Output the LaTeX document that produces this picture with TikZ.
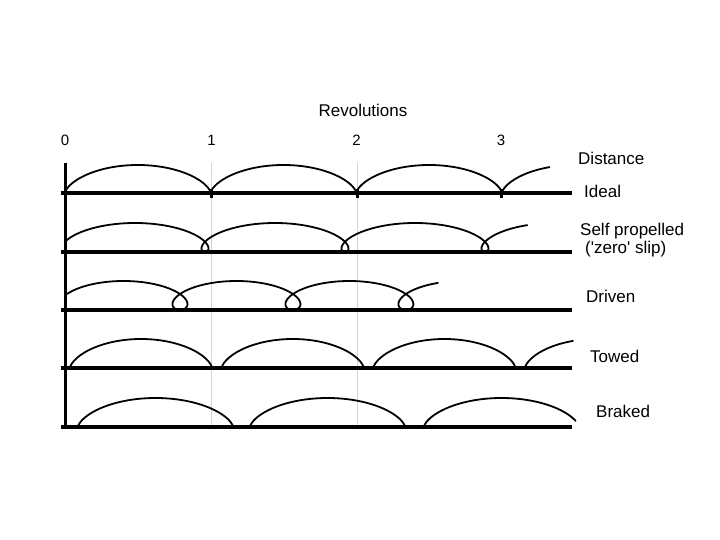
\documentclass[tikz,border=0pt]{standalone}
\usepackage{fontspec}
\setmainfont{Liberation Sans}
\begin{document}
\begin{tikzpicture}[x=1pt,y=-1pt,
  axis/.style={line width=3.5pt},
  gridline/.style={line width=1pt, draw=black!17},
  curve/.style={line width=1.8pt, line join=round, line cap=round},
  lbl/.style={anchor=base west, inner sep=0pt, font=\fontsize{17}{20}\selectfont},
  num/.style={anchor=base, inner sep=0pt, font=\fontsize{15}{17}\selectfont}]
\useasboundingbox (0,0) rectangle (720,540);
\fill[white] (0,0) rectangle (720,540);
% revolution guide lines
\draw[gridline] (211.5,163) -- (211.5,428);
\draw[gridline] (357,163) -- (357,428);
% baselines and axis
\foreach \y in {193,252,310,368,427} \draw[axis] (61,\y) -- (572,\y);
\draw[axis] (65.5,163) -- (65.5,429);
% ticks on ideal line
\foreach \x in {211.5,357,501.5} \draw[line width=3pt] (\x,189) -- (\x,198);
% ideal: cycloid
\draw[curve] plot[domain=0:21.44, samples=600, variable=\t]
  ({65+23.18*(\t-sin(\t r))},{193-14*(1-cos(\t r))});
% self propelled: small loops
\draw[curve] plot[domain=1.27:21.45, samples=600, variable=\t]
  ({65+22.28*\t-29.6*sin(\t r)},{252-14.5*(1-cos(\t r))});
% driven: large loops
\draw[curve] plot[domain=1.68:21.47, samples=600, variable=\t]
  ({67+17.98*\t-30.2*sin(\t r)},{310-14.5*(1-cos(\t r))});
% towed
\foreach \s in {70,221.7,373.4}
  \draw[curve] plot[domain=0:6.2832, samples=150, variable=\t]
    ({\s+22.6*(\t-sin(\t r))},{368-14.5*(1-cos(\t r))});
\draw[curve] plot[domain=0:2.62, samples=80, variable=\t]
  ({525+22.6*(\t-sin(\t r))},{368-14.5*(1-cos(\t r))});
% braked
\foreach \s in {78,250}
  \draw[curve] plot[domain=0:6.2832, samples=150, variable=\t]
    ({\s+24.67*(\t-sin(\t r))},{427-14.5*(1-cos(\t r))});
\draw[curve] plot[domain=0:5.33, samples=150, variable=\t]
  ({424+24.67*(\t-sin(\t r))},{427-14.5*(1-cos(\t r))});
% labels
\node[num] (n0) at (65,146) {0};
\node[num] (n1) at (211.5,146) {1};
\node[num] (n2) at (356.5,146) {2};
\node[num] (n3) at (501,146) {3};
\node[lbl, anchor=base] (rev) at (363,117) {Revolutions};
\node[lbl] (dist) at (578,165) {Distance};
\node[lbl] (ideal) at (584,197) {Ideal};
\node[lbl] (self) at (580,236) {Self propelled};
\node[lbl] (zero) at (585,253) {(\textquotesingle{}zero\textquotesingle{} slip)};
\node[lbl] (driven) at (586,302) {Driven};
\node[lbl] (towed) at (590,362) {Towed};
\node[lbl] (braked) at (596,417) {Braked};
\end{tikzpicture}
\end{document}
